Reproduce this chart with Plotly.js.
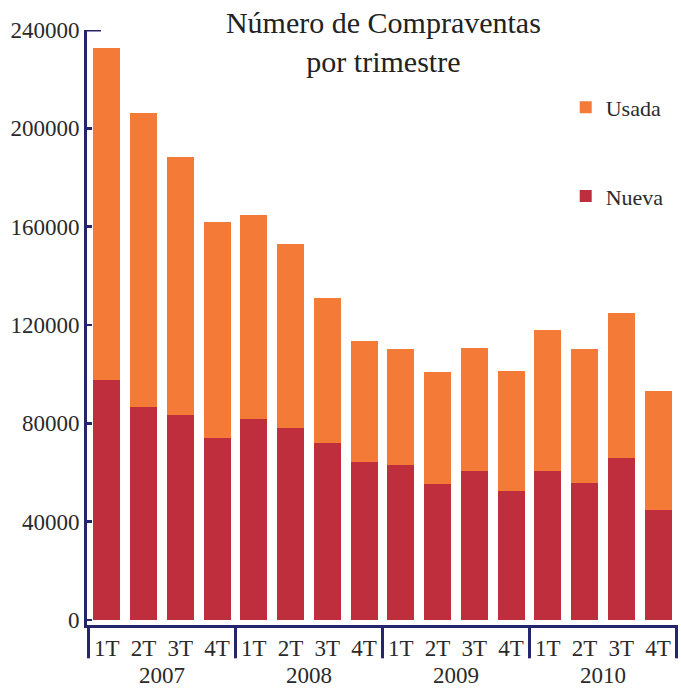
<!DOCTYPE html>
<html>
<head>
<meta charset="utf-8">
<script src="https://cdn.plot.ly/plotly-3.0.1.min.js"></script>
<style>html,body{margin:0;padding:0;background:#fff;}#chart{width:681px;height:688px;}</style>
</head>
<body>
<div id="chart"></div>
<script>
var years = ['2007','2007','2007','2007','2008','2008','2008','2008','2009','2009','2009','2009','2010','2010','2010','2010'];
var quarters = ['1T','2T','3T','4T','1T','2T','3T','4T','1T','2T','3T','4T','1T','2T','3T','4T'];
var nueva = [97600, 86700, 83400, 74000, 81800, 78100, 72000, 64300, 63100, 55300, 60600, 52500, 60600, 55700, 65900, 44800];
var usada = [135100, 119600, 105000, 87900, 83000, 74900, 59000, 49200, 47200, 45600, 50100, 48800, 57400, 54600, 59000, 48400];
var yTicks = [0, 40000, 80000, 120000, 160000, 200000, 240000];

var axisColor = '#25256b';
var fontFam = '"Liberation Serif", "DejaVu Serif", serif';

var traces = [
  {type:'bar', name:'Nueva', x:[years, quarters], y:nueva, marker:{color:'#be2e3c'}, legendgroup:'n', legendrank:2},
  {type:'bar', name:'Usada', x:[years, quarters], y:usada, marker:{color:'#f47a38'}, legendgroup:'u', legendrank:1}
];

// year-group boundaries (axis decoration, derived from the category arrays)
var shapes = [{type:'line', xref:'paper', yref:'y', xsizemode:'pixel', xanchor:0, x0:0, x1:14, y0:240000, y1:240000, line:{color:axisColor, width:3}}];
for (var i = 0; i <= years.length; i++) {
  if (i === 0 || i === years.length || years[i] !== years[i-1]) {
    shapes.push({type:'line', xref:'x', yref:'paper', x0:i-0.5, x1:i-0.5, y0:0, y1:-0.056, line:{color:axisColor, width:3}});
  }
}

var layout = {
  width:681, height:688,
  margin:{l:87, r:3, t:30, b:63},
  barmode:'stack', bargap:0.27,
  paper_bgcolor:'#fff', plot_bgcolor:'#fff',
  font:{family:fontFam, color:'#2a2a2a', size:23},
  title:{text:'Número de Compraventas<br>por trimestre', x:0.563, xanchor:'center', yref:'container', y:0.952, yanchor:'top', font:{family:fontFam, size:30, color:'#222'}},
  showlegend:true,
  legend:{x:0.81, xanchor:'left', y:0.905, yanchor:'top', traceorder:'grouped', tracegroupgap:57, font:{family:fontFam, size:22, color:'#2a2a2a'}, bgcolor:'rgba(0,0,0,0)'},
  xaxis:{type:'multicategory', showline:true, linecolor:axisColor, linewidth:3, ticks:'', showgrid:false, showdividers:false, tickfont:{size:23, color:'#2a2a2a'}, zeroline:false},
  yaxis:{range:[-2000, 240000], tickvals:yTicks, tickformat:'d', showline:true, linecolor:axisColor, linewidth:3, ticks:'inside', ticklen:5, tickwidth:2.5, tickcolor:axisColor, showgrid:false, zeroline:false, ticklabelstandoff:0, tickfont:{size:23, color:'#2a2a2a'}},
  shapes:shapes
};

Plotly.newPlot('chart', traces, layout, {displayModeBar:false, staticPlot:true});
</script>
</body>
</html>
